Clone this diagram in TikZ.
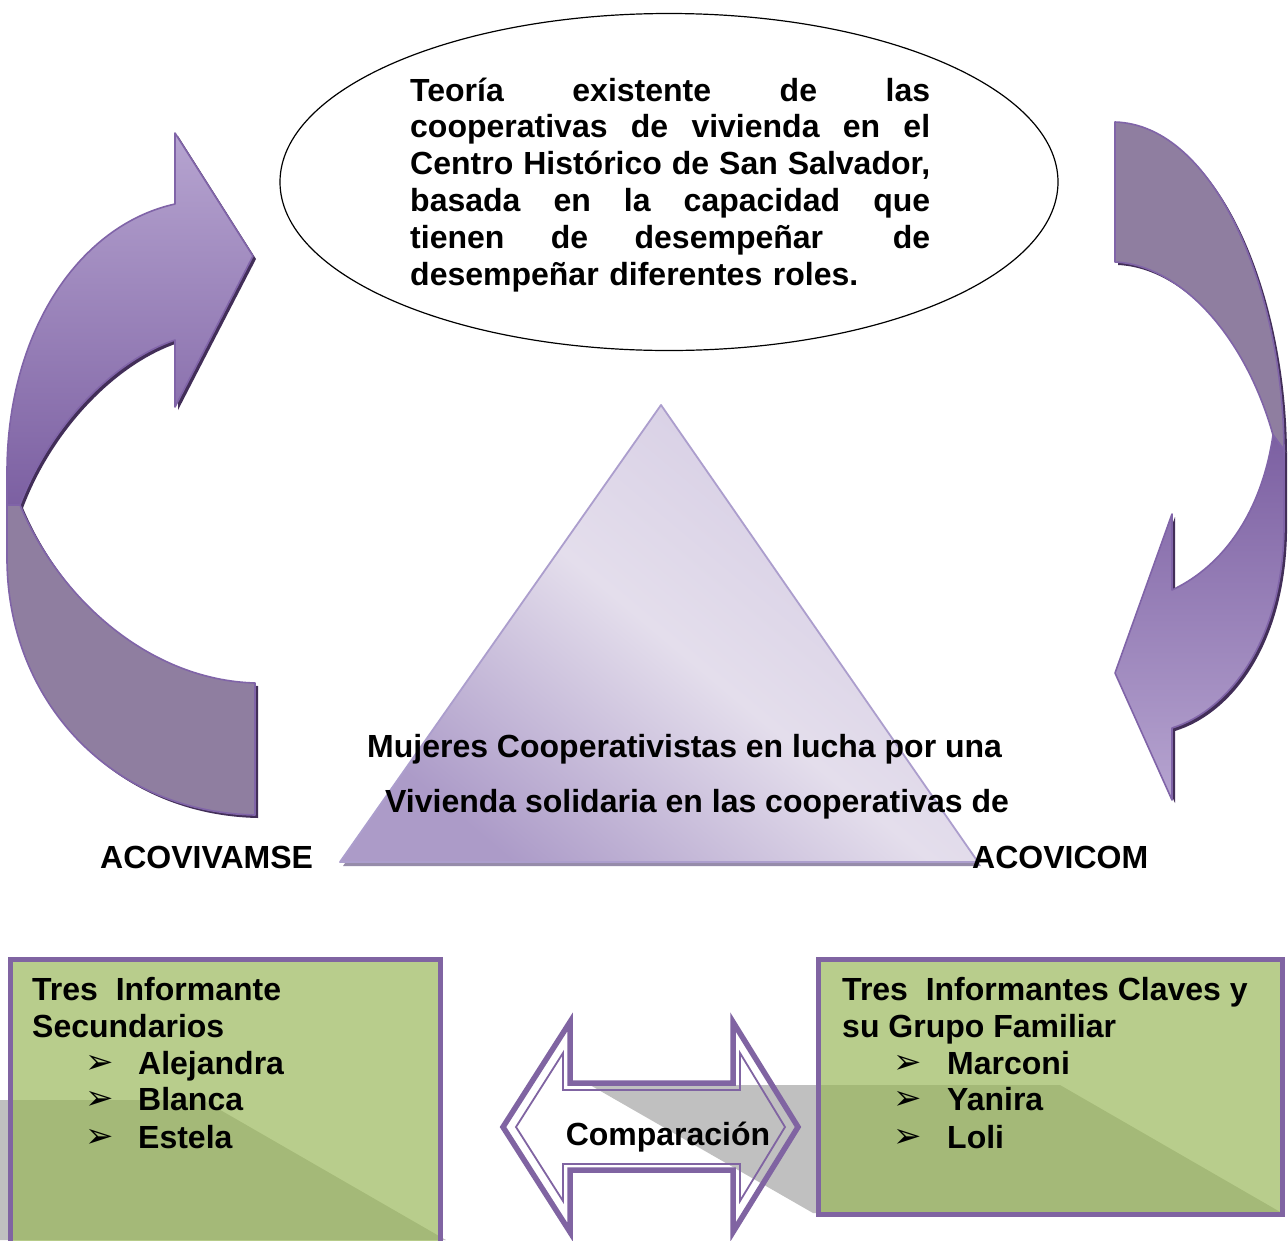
\documentclass[tikz,border=0pt]{standalone}
\usepackage{fontspec}
\setmainfont{Liberation Sans}
\newfontfamily\symfont{DejaVu Sans}
\usetikzlibrary{shapes.geometric}
\definecolor{arrEdge}{RGB}{128,100,168}
\definecolor{arrLight}{RGB}{182,164,208}
\definecolor{arrDark}{RGB}{124,96,162}
\definecolor{arrGrey}{RGB}{143,126,160}
\definecolor{arrShadow}{RGB}{66,46,88}
\definecolor{triEdge}{RGB}{172,158,205}
\definecolor{triDark}{RGB}{172,155,200}
\definecolor{triMid}{RGB}{228,222,236}
\definecolor{triTop}{RGB}{212,203,227}
\definecolor{triShadow}{RGB}{150,140,170}
\definecolor{boxEdge}{RGB}{128,100,162}
\definecolor{boxFill}{RGB}{152,183,87}
\definecolor{shadowGrey}{RGB}{192,192,192}
\newcommand{\leftArrowUpper}[1]{\path[#1] (175,133) -- (253,256) -- (175,407) -- (175,340)
  .. controls (110,362) and (48,430) .. (20,505) -- (7,505) -- (7,470)
  .. controls (8,330) and (80,225) .. (175,204) -- cycle;}
\newcommand{\leftArrowLower}[1]{\path[#1] (7,505) -- (20,505)
  .. controls (60,600) and (150,680) .. (255,683) -- (255,815)
  .. controls (110,812) and (8,700) .. (7,560) -- cycle;}
\newcommand{\rightArrowUpper}[1]{\path[#1] (1115,122)
  .. controls (1215,125) and (1283,290) .. (1284,450) -- (1273,435)
  .. controls (1245,335) and (1180,265) .. (1115,262) -- cycle;}
\newcommand{\rightArrowLower}[1]{\path[#1] (1284,450) -- (1284,530)
  .. controls (1282,640) and (1230,710) .. (1172,728) -- (1172,800) -- (1115,673)
  -- (1172,514) -- (1172,590) .. controls (1225,565) and (1262,510) .. (1273,435) -- cycle;}
\newcommand{\jline}[1]{\leavevmode\hbox to 520pt{#1}}
\begin{document}
\begin{tikzpicture}[x=1pt,y=-1pt,
  txt/.style={font=\fontsize{32}{36.8}\selectfont\bfseries, inner sep=0, anchor=base west},
  bul/.style={font=\symfont\fontsize{34}{34}\selectfont, inner sep=0, anchor=base west},
  arrowedge/.style={draw=arrEdge, line width=1.6, line join=round},
  boxstyle/.style={draw=boxEdge, line width=5, fill=boxFill, fill opacity=0.683},
  dbl/.style={draw=boxEdge, line join=miter}]
\useasboundingbox (0,0) rectangle (1288,1240);
\fill[white] (0,0) rectangle (1288,1240);

% ---- curved arrows ----
\leftArrowUpper{fill=arrShadow, shift={(3,3)}}
\leftArrowLower{fill=arrShadow, shift={(3,3)}}
\rightArrowUpper{fill=arrShadow, shift={(3,3)}}
\rightArrowLower{fill=arrShadow, shift={(3,3)}}
\leftArrowLower{fill=arrGrey, arrowedge}
\leftArrowUpper{top color=arrLight, bottom color=arrDark, arrowedge}
\rightArrowUpper{fill=arrGrey, arrowedge}
\rightArrowLower{top color=arrDark, bottom color=arrLight, arrowedge}

% ---- ellipse ----
\node[ellipse, draw=black, line width=1.2, fill=white, minimum width=778, minimum height=337, inner sep=0] (ell) at (669,182) {};
\node[txt, text width=520, align=left] (teoria) at (410,101) {%
\jline{Teoría\hfill existente\hfill de\hfill las}\\
\jline{cooperativas\hfill de\hfill vivienda\hfill en\hfill el}\\
\jline{Centro\hfill Histórico\hfill de\hfill San\hfill Salvador,}\\
\jline{basada\hfill en\hfill la\hfill capacidad\hfill que}\\
\jline{tienen\hskip 0pt plus 1fil de\hskip 0pt plus 1fil desempeñar\hskip 0pt plus 1.5fil de}\\
desempeñar diferentes roles.};

% ---- triangle ----
\fill[triShadow] (663,409) -- (981,866) -- (343,866) -- cycle;
\shade[bottom color=triDark, top color=triTop, middle color=triMid, shading angle=-40]
  (661,405) -- (978,862) -- (340,862) -- cycle;
\draw[triEdge, line width=1.8, line join=round] (661,405) -- (978,862) -- (340,862) -- cycle;
\node[txt] (muj) at (367,757) {Mujeres Cooperativistas en lucha por una};
\node[txt] (viv) at (385,812) {Vivienda solidaria en las cooperativas de};
\node[txt] (acovivamse) at (100,868) {ACOVIVAMSE};
\node[txt] (acovicom) at (972,868) {ACOVICOM};

% ---- shadows of the boxes ----
\fill[shadowGrey] (590,1085) -- (1060,1085) -- (1282,1213) -- (813,1213) -- cycle;
\fill[shadowGrey] (-300,1100) -- (203,1100) -- (446,1240) -- (-300,1240) -- cycle;

% ---- boxes ----
\path[boxstyle] (10.5,959) rectangle (440.5,1252);
\path[boxstyle] (818.5,959.5) rectangle (1282.5,1214.5);

\node[txt] (l1) at (32,1000) {Tres\ \ Informante};
\node[txt] (l2) at (32,1037) {Secundarios};
\node[bul] (lb1) at (85,1073) {➢};
\node[bul] (lb2) at (85,1109) {➢};
\node[bul] (lb3) at (85,1147) {➢};
\node[txt] (li1) at (138,1074) {Alejandra};
\node[txt] (li2) at (138,1110) {Blanca};
\node[txt] (li3) at (138,1148) {Estela};

\node[txt] (r1) at (842,1000) {Tres\ \ Informantes Claves y};
\node[txt] (r2) at (842,1037) {su Grupo Familiar};
\node[bul] (rb1) at (893,1073) {➢};
\node[bul] (rb2) at (893,1109) {➢};
\node[bul] (rb3) at (893,1147) {➢};
\node[txt] (ri1) at (947,1074) {Marconi};
\node[txt] (ri2) at (947,1110) {Yanira};
\node[txt] (ri3) at (947,1148) {Loli};

% ---- double arrow ----
\draw[dbl, line width=5.5] (503,1127) -- (570,1022) -- (570,1083) -- (733,1083) -- (733,1022)
  -- (798,1127) -- (733,1232) -- (733,1170) -- (570,1170) -- (570,1232) -- cycle;
\draw[dbl, line width=1.8] (516,1127) -- (563,1053) -- (563,1090) -- (740,1090) -- (740,1053)
  -- (785,1127) -- (740,1201) -- (740,1164) -- (563,1164) -- (563,1201) -- cycle;
\node[font=\fontsize{32}{36.8}\selectfont\bfseries, inner sep=0, anchor=base] (comp) at (668,1145) {Comparación};
\end{tikzpicture}
\end{document}
